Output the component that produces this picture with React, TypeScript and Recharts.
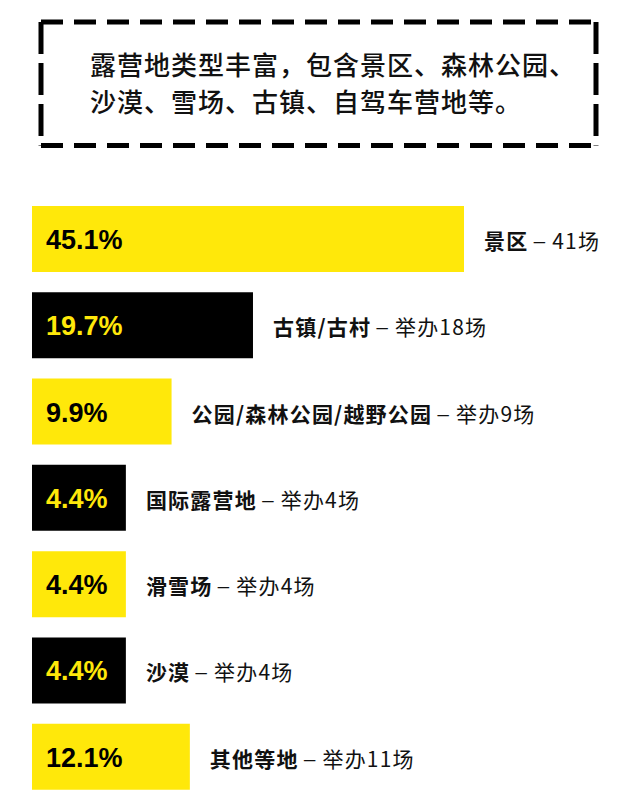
import React from "react";
import { BarChart, Bar, XAxis, YAxis, Cell, LabelList } from "recharts";

const headline = ["露营地类型丰富，包含景区、森林公园、", "沙漠、雪场、古镇、自驾车营地等。"];
const categories = ["景区", "古镇/古村", "公园/森林公园/越野公园", "国际露营地", "滑雪场", "沙漠", "其他等地"];
const shares = [45.1, 19.7, 9.9, 4.4, 4.4, 4.4, 12.1];
const counts = [41, 18, 9, 4, 4, 4, 11];
const countPrefix = ["", "举办", "举办", "举办", "举办", "举办", "举办"];

const YELLOW = "#FFE80A";
const BLACK = "#000000";
// bars start a bit left of zero so the small ones still fit their label
const BASE = -6.9;

const data = categories.map((name, i) => ({
  name,
  share: shares[i],
  count: counts[i],
  prefix: countPrefix[i],
}));

const PctLabel = (props: any) => {
  const { x, y, height, index } = props;
  const dark = index % 2 === 1;
  return (
    <text
      x={x + 14}
      y={y + height / 2 + 1}
      dominantBaseline="central"
      fontFamily="'Liberation Sans', Arial, sans-serif"
      fontWeight={700}
      fontSize={27}
      fill={dark ? YELLOW : BLACK}
    >
      {shares[index].toFixed(1)}%
    </text>
  );
};

const NameLabel = (props: any) => {
  const { x, y, width, height, index } = props;
  const d = data[index];
  return (
    <text
      x={x + width + 20}
      y={y + height / 2 + 1}
      dominantBaseline="central"
      fontFamily="'Noto Sans CJK SC', sans-serif"
      fontSize={21}
      letterSpacing={1.2}
      fill="#111"
    >
      <tspan fontWeight={700}>{d.name}</tspan>
      <tspan dx={4} dy={-2} fontSize={26} fontWeight={300} letterSpacing={0}>–</tspan>
      <tspan dx={6} dy={2} fontWeight={400}>{d.prefix + d.count + "场"}</tspan>
    </text>
  );
};

const Header = () => (
  <svg width={640} height={170} style={{ position: "absolute", left: 0, top: 0 }}>
    <g stroke="#000" strokeWidth={5} fill="none">
      <line x1={41} y1={22} x2={596} y2={22} strokeDasharray="22 11" />
      <line x1={41} y1={145.5} x2={596} y2={145.5} strokeDasharray="22 11" />
      <line x1={41} y1={22} x2={41} y2={145.5} strokeDasharray="32 9" />
      <line x1={596} y1={22} x2={596} y2={145.5} strokeDasharray="32 9" />
    </g>
    {headline.map((line, i) => (
      <text
        key={i}
        x={90}
        y={74.5 + i * 37.5}
        fontFamily="'Noto Sans CJK SC', sans-serif"
        fontWeight={500}
        fontSize={26}
        letterSpacing={1}
        fill="#111"
      >
        {line}
      </text>
    ))}
  </svg>
);

export default function App() {
  return (
    <div style={{ position: "absolute", left: 0, top: 0, width: 640, height: 809, background: "#fff" }}>
      <BarChart
        width={640}
        height={809}
        data={data}
        layout="vertical"
        margin={{ top: 196, right: 176, bottom: 9, left: 32 }}
      >
        <XAxis type="number" domain={[BASE, 45.1]} allowDataOverflow hide />
        <YAxis type="category" dataKey="name" hide />
        <Bar
          dataKey={(d: any) => [BASE, d.share]}
          barSize={66}
          isAnimationActive={false}
        >
          {data.map((_, i) => (
            <Cell key={i} fill={i % 2 === 1 ? BLACK : YELLOW} />
          ))}
          <LabelList content={<PctLabel />} />
          <LabelList content={<NameLabel />} />
        </Bar>
      </BarChart>
      <Header />
    </div>
  );
}
